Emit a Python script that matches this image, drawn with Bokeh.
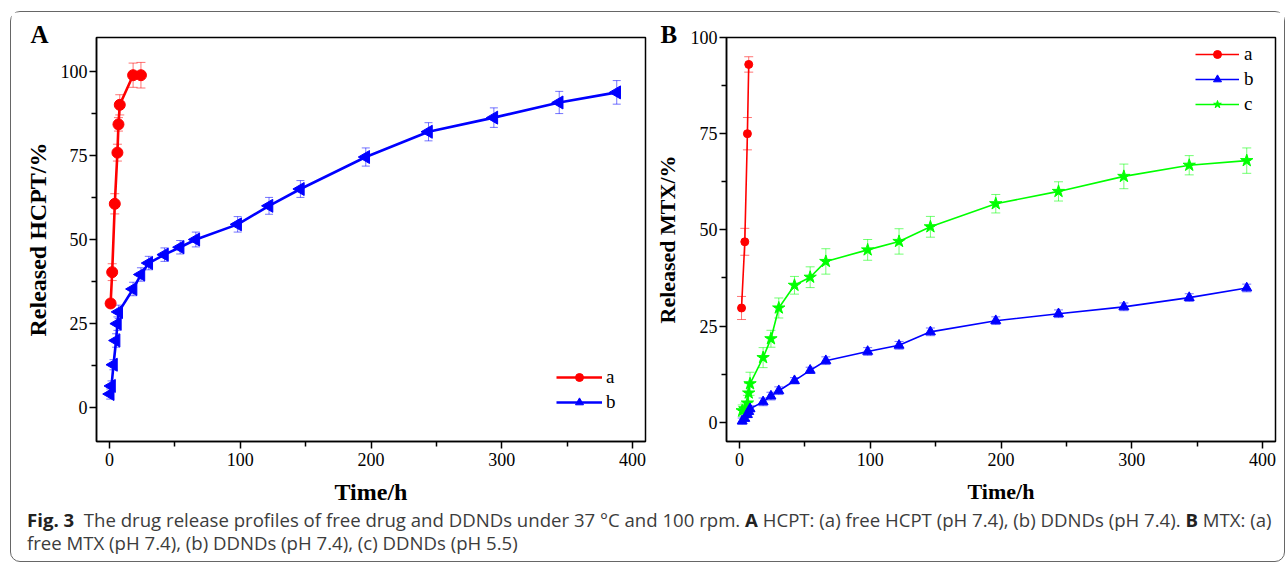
from bokeh.plotting import figure
from bokeh.models import (FixedTicker, Whisker, ColumnDataSource, Legend, LegendItem,
                          Title, Div, TeeHead, Range1d)
from bokeh.layouts import column, row
from bokeh.embed import file_html
from bokeh.resources import INLINE
import math

# ---------------- data: Panel A (HCPT) ----------------
a_time_A = [0.8, 2, 4, 6, 6.8, 7.8, 18, 24]
a_rel_A = [31.0, 40.3, 60.6, 75.8, 84.2, 90.0, 98.8, 98.8]
a_err_A = [1.0, 2.5, 3.0, 2.5, 2.0, 3.0, 3.6, 3.8]

b_time_A = [0.5, 1.5, 3, 5, 6, 7, 18, 24, 30, 42, 54, 66, 98, 122, 146, 196, 244, 294, 344, 388]
b_rel_A = [4.1, 6.5, 12.8, 20.0, 25.0, 28.5, 35.3, 39.6, 43.0, 45.5, 47.7, 50.0, 54.5, 60.0,
           65.0, 74.5, 82.0, 86.2, 90.7, 93.7]
b_err_A = [1.5, 1.5, 1.5, 2.0, 2.0, 2.0, 2.0, 2.0, 2.0, 2.0, 2.0, 2.2, 2.3, 2.5, 2.5, 2.7,
           2.7, 2.9, 3.3, 3.5]

# ---------------- data: Panel B (MTX) ----------------
a_time_B = [1.5, 4, 6, 7]
a_rel_B = [29.7, 46.9, 75.0, 93.0]
a_err_B = [3.0, 3.5, 4.2, 2.0]

bc_time_B = [2, 4, 6, 7, 8, 18, 24, 30, 42, 54, 66, 98, 122, 146, 196, 244, 294, 344, 388]
b_rel_B = [0.3, 1.0, 2.0, 2.8, 3.5, 5.3, 6.8, 8.2, 10.8, 13.5, 16.0, 18.4, 20.0, 23.5, 26.4,
           28.2, 30.0, 32.4, 34.9]
b_err_B = [0.8, 0.8, 0.8, 0.8, 0.8, 1.0, 1.0, 1.0, 0.8, 0.8, 1.0, 1.0, 1.0, 1.0, 1.0, 1.0,
           1.0, 1.0, 1.0]
c_rel_B = [3.0, 3.5, 5.0, 7.6, 10.0, 16.8, 21.7, 29.7, 35.6, 37.7, 41.8, 44.8, 47.0, 50.8,
           56.8, 60.0, 63.9, 66.8, 68.0]
c_err_B = [1.5, 1.5, 2.0, 2.5, 3.0, 2.6, 2.2, 2.6, 2.3, 2.7, 3.3, 2.7, 3.3, 2.7, 2.4, 2.5,
           3.2, 2.5, 3.3]

x_major = [0, 100, 200, 300, 400]
x_minor = [50, 150, 250, 350]
y_major = [0, 25, 50, 75, 100]
y_minor = [12.5, 37.5, 62.5, 87.5]

SERIF = "Liberation Serif"
RED, BLUE, GREEN = "#ff0000", "#0000ff", "#00ff00"


def style_fig(p, tick_size, label_size, xlabel, ylabel):
    p.xaxis.ticker = FixedTicker(ticks=x_major, minor_ticks=x_minor)
    p.yaxis.ticker = FixedTicker(ticks=y_major, minor_ticks=y_minor)
    p.xaxis.axis_label = xlabel
    p.yaxis.axis_label = ylabel
    for ax in (p.xaxis, p.yaxis):
        ax.axis_label_text_font = SERIF
        ax.axis_label_text_font_style = "bold"
        ax.axis_label_text_font_size = label_size
        ax.axis_label_text_color = "black"
        ax.major_label_text_font = SERIF
        ax.major_label_text_font_size = tick_size
        ax.major_label_text_color = "black"
        ax.axis_line_color = "black"
        ax.axis_line_width = 1.5
        ax.major_tick_line_color = "black"
        ax.minor_tick_line_color = "black"
        ax.major_tick_line_width = 1.5
        ax.minor_tick_line_width = 1.5
        ax.major_tick_in = 0
        ax.minor_tick_in = 0
        ax.major_tick_out = 7
        ax.minor_tick_out = 5
    p.xaxis.major_label_standoff = 4
    p.yaxis.major_label_standoff = 2
    p.xaxis.axis_label_standoff = 10
    p.yaxis.axis_label_standoff = 7
    p.xgrid.visible = False
    p.ygrid.visible = False
    p.outline_line_color = "black"
    p.outline_line_width = 1.5
    p.outline_line_alpha = 1.0
    p.background_fill_color = "white"
    p.border_fill_color = "white"


def add_err(p, xs, ys, errs, color, head):
    src = ColumnDataSource(dict(x=xs,
                                upper=[y + e for y, e in zip(ys, errs)],
                                lower=[y - e for y, e in zip(ys, errs)]))
    w = Whisker(base="x", upper="upper", lower="lower", source=src,
                line_color=color, line_alpha=0.55, line_width=1,
                upper_head=TeeHead(size=head, line_color=color, line_alpha=0.55, line_width=1),
                lower_head=TeeHead(size=head, line_color=color, line_alpha=0.55, line_width=1))
    p.add_layout(w)


def panel_letter(p, letter, standoff):
    p.add_layout(Title(text=letter, align="left", offset=-66, standoff=standoff,
                       text_font=SERIF, text_font_style="bold", text_font_size="25px",
                       text_color="black"), "above")


# ---------------- Panel A ----------------
pA = figure(width=639, height=499, x_range=Range1d(-10, 410), y_range=Range1d(-10, 110),
            output_backend="svg", toolbar_location=None,
            min_border_left=85, min_border_right=5, min_border_top=25, min_border_bottom=70)
style_fig(pA, "18px", "24px", "Time/h", "Released HCPT/%")

add_err(pA, b_time_A, b_rel_A, b_err_A, BLUE, 8)
lbA = pA.line(b_time_A, b_rel_A, line_color=BLUE, line_width=2.6)
sbA = pA.scatter(b_time_A, b_rel_A, marker="triangle", angle=math.pi / 2, size=13,
                 fill_color=BLUE, line_color=BLUE)
add_err(pA, a_time_A, a_rel_A, a_err_A, RED, 9)
laA = pA.line(a_time_A, a_rel_A, line_color=RED, line_width=2.6)
saA = pA.scatter(a_time_A, a_rel_A, marker="circle", size=11, fill_color=RED, line_color=RED)

legA = Legend(items=[LegendItem(label="a", renderers=[laA, saA]),
                     LegendItem(label="b", renderers=[lbA, sbA])],
              location=(460, 28), padding=0, spacing=3, border_line_color=None,
              background_fill_alpha=0, glyph_width=46, glyph_height=20, label_height=20,
              label_standoff=4, label_text_font=SERIF, label_text_font_size="19px",
              label_text_color="black")
pA.add_layout(legA)
panel_letter(pA, "A", -21)

# ---------------- Panel B ----------------
pB = figure(width=634, height=499, x_range=Range1d(-10, 410), y_range=Range1d(-5, 100),
            output_backend="svg", toolbar_location=None,
            min_border_left=76, min_border_right=9, min_border_top=22, min_border_bottom=69)
style_fig(pB, "18px", "22px", "Time/h", "Released MTX/%")
pB.yaxis.axis_label_standoff = 8

add_err(pB, bc_time_B, c_rel_B, c_err_B, GREEN, 9)
lcB = pB.line(bc_time_B, c_rel_B, line_color=GREEN, line_width=1.6)
scB = pB.scatter(bc_time_B, c_rel_B, marker="star", size=13, fill_color=GREEN, line_color=GREEN)
add_err(pB, bc_time_B, b_rel_B, b_err_B, BLUE, 9)
lbB = pB.line(bc_time_B, b_rel_B, line_color=BLUE, line_width=1.6)
sbB = pB.scatter(bc_time_B, b_rel_B, marker="triangle", size=10, fill_color=BLUE, line_color=BLUE)
add_err(pB, a_time_B, a_rel_B, a_err_B, RED, 9)
laB = pB.line(a_time_B, a_rel_B, line_color=RED, line_width=1.6)
saB = pB.scatter(a_time_B, a_rel_B, marker="circle", size=8, fill_color=RED, line_color=RED)

legB = Legend(items=[LegendItem(label="a", renderers=[laB, saB]),
                     LegendItem(label="b", renderers=[lbB, sbB]),
                     LegendItem(label="c", renderers=[lcB, scB])],
              location=(469, 326), padding=0, spacing=3, border_line_color=None,
              background_fill_alpha=0, glyph_width=44, glyph_height=20, label_height=20,
              label_standoff=5, label_text_font=SERIF, label_text_font_size="19px",
              label_text_color="black")
pB.add_layout(legB)
panel_letter(pB, "B", -21)

# ---------------- caption ----------------
caption_html = ('<b style="color:#222">Fig.&nbsp;3</b>&nbsp; The drug release profiles of free drug and '
                'DDNDs under 37 °C and 100 rpm. <b style="color:#222">A</b> HCPT: (a) free HCPT (pH 7.4), '
                '(b) DDNDs (pH 7.4). <b style="color:#222">B</b> MTX: (a)<br>'
                'free MTX (pH 7.4), (b) DDNDs (pH 7.4), (c) DDNDs (pH 5.5)')
cap = Div(text=caption_html, width=1257, height=50, margin=(-3, 0, 3, 16),
          styles={"font-family": "Open Sans", "font-size": "18.6px", "line-height": "23px",
                  "color": "#3c3c3c", "white-space": "nowrap"})

layout = column(row(pA, pB), cap, margin=(11, 0, 0, 10),
                styles={"border": "1px solid #666", "border-radius": "10px",
                        "background-color": "white"})

open("out.html", "w").write(file_html(layout, INLINE))
